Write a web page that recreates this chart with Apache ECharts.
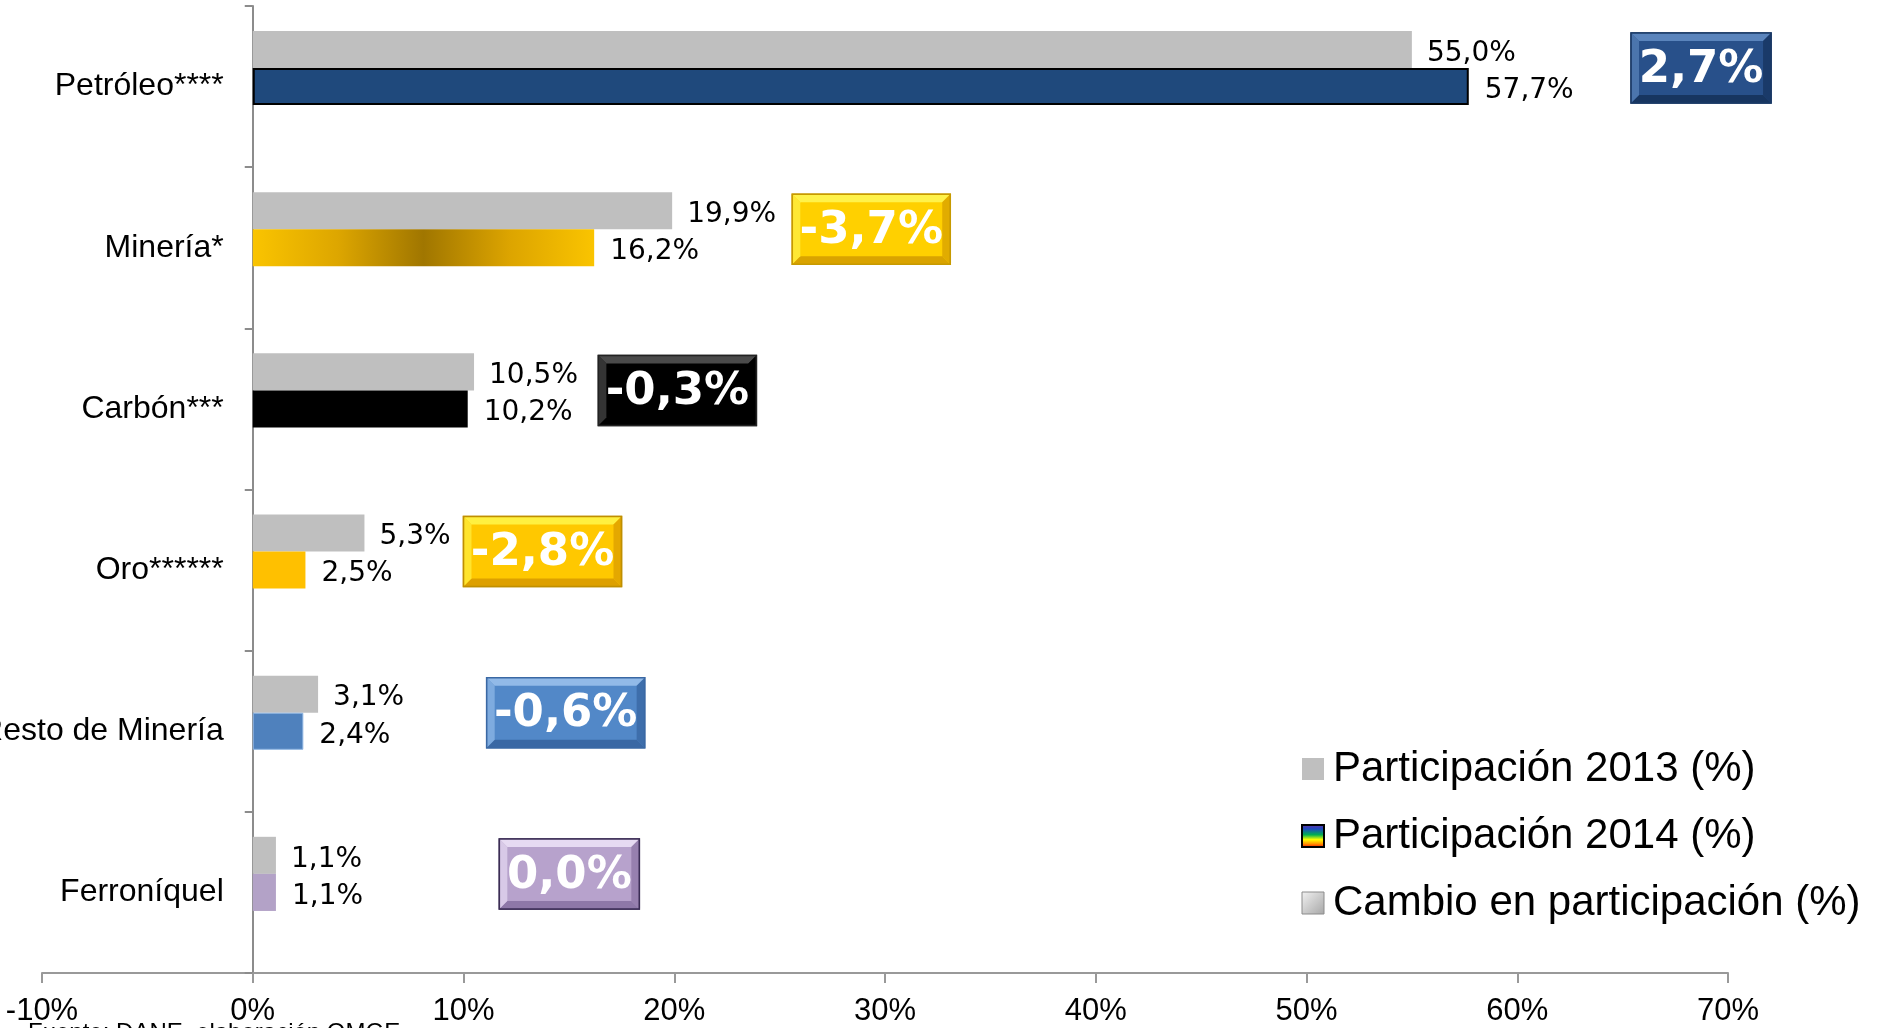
<!DOCTYPE html>
<html>
<head>
<meta charset="utf-8">
<script src="https://cdn.jsdelivr.net/npm/echarts@6/dist/echarts.min.js"></script>
<style>
  html, body { margin: 0; padding: 0; background: #fff; }
  #chart { width: 1882px; height: 1028px; }
</style>
</head>
<body>
<div id="chart"></div>
<script>
// datos
var categorias  = ['Petróleo****', 'Minería*', 'Carbón***', 'Oro******', 'Resto de Minería', 'Ferroníquel']
var part2013    = [55.0, 19.9, 10.5, 5.3, 3.1, 1.1]
var part2014    = [57.7, 16.2, 10.2, 2.5, 2.4, 1.1]
var cambio      = [2.7, -3.7, -0.3, -2.8, -0.6, 0.0]
var ticksX      = [-10, 0, 10, 20, 30, 40, 50, 60, 70]

// donde van las cajas de cambio (borde izquierdo, en % del eje)
var cajaX       = [65.4, 25.6, 16.4, 10.0, 11.1, 11.7]

var fuenteTxt   = '"Liberation Sans", Arial, sans-serif'
var fuenteNum   = '"DejaVu Sans", sans-serif'

var gridIzq = 42
var gridDer = 154
var anchoGrid = 1882 - gridIzq - gridDer
var xMin = ticksX[0]
var xMax = ticksX[ticksX.length - 1]
// el eje de categorias va en el 0 del eje x
var offsetY = -(0 - xMin) / (xMax - xMin) * anchoGrid

var oroGrad = new echarts.graphic.LinearGradient(0, 0, 1, 0, [
  { offset: 0,    color: '#FAC400' },
  { offset: 0.25, color: '#DDA600' },
  { offset: 0.5,  color: '#A07600' },
  { offset: 0.75, color: '#DCA400' },
  { offset: 1,    color: '#FAC400' }
])

var estilo2014 = [
  { color: '#1F497C', borderColor: '#000', borderWidth: 2 },
  { color: oroGrad },
  { color: '#000000' },
  { color: '#FFC000' },
  { color: '#4F81BD', borderColor: '#8DB4E2', borderWidth: 1 },
  { color: '#B3A2C7' }
]

// colores de las cajas: [cara, claro, oscuro, borde]
var estiloCaja = [
  ['#28508A', '#5A84BC', '#173560', '#1A3A66'],
  ['#FFD000', '#FFF24A', '#D9A300', '#C79A00'],
  ['#000000', '#4A4A4A', '#000000', '#222222'],
  ['#FFC800', '#FFF040', '#DDA000', '#C08F00'],
  ['#5288C8', '#92BAE8', '#3A68A4', '#3A68A4'],
  ['#B7A2CC', '#E6DAF2', '#8E78A8', '#3B2D55']
]

function fmt(v) {
  return v.toFixed(1).replace('.', ',') + '%'
}

var chart = echarts.init(document.getElementById('chart'))

function dibujaCaja(params, api) {
  var i = params.dataIndex
  var txt = fmt(cambio[i])
  var p = api.coord([api.value(0), api.value(1)])
  var banda = api.size([0, 1])[1]
  var barH = banda * (1 - 0.31) / 3
  var w = txt.length >= 5 ? 158 : 140
  var h = 70
  var x = p[0]
  var y = p[1] - barH / 2 - h / 2
  var b = 8
  var c = estiloCaja[i]
  return {
    type: 'group',
    children: [
      { type: 'rect', shape: { x: x, y: y, width: w, height: h },
        style: { fill: c[0], stroke: c[3], lineWidth: 1.5 } },
      { type: 'polygon', shape: { points: [[x, y], [x + w, y], [x + w - b, y + b], [x + b, y + b]] },
        style: { fill: c[1] } },
      { type: 'polygon', shape: { points: [[x, y + h], [x + w, y + h], [x + w - b, y + h - b], [x + b, y + h - b]] },
        style: { fill: c[2] } },
      { type: 'polygon', shape: { points: [[x, y], [x + b, y + b], [x + b, y + h - b], [x, y + h]] },
        style: { fill: c[1], opacity: 0.7 } },
      { type: 'polygon', shape: { points: [[x + w, y], [x + w - b, y + b], [x + w - b, y + h - b], [x + w, y + h]] },
        style: { fill: c[2], opacity: 0.8 } },
      { type: 'rect', shape: { x: x, y: y, width: w, height: h },
        style: { fill: 'none', stroke: c[3], lineWidth: 1.5 } },
      { type: 'text',
        style: { x: x + w / 2, y: y + h / 2 + 2, text: txt, fill: '#fff',
          font: 'bold 45px ' + fuenteNum, align: 'center', verticalAlign: 'middle' } }
    ]
  }
}

chart.setOption({
  animation: false,
  grid: {
    left  : gridIzq,
    right : gridDer,
    top   : 6,
    bottom: 55,
    containLabel: false,
    outerBoundsMode: 'none'
  },
  legend: {
    orient   : 'vertical',
    left     : 1296,
    top      : 740,
    itemWidth: 22,
    itemHeight: 22,
    itemGap  : 19,
    textStyle: { fontSize: 42, fontFamily: fuenteTxt, color: '#000', lineHeight: 48, padding: [0, 0, 0, 4] },
    data: [
      { name: 'Participación 2013 (%)', icon: 'rect', itemStyle: { color: '#BFBFBF' } },
      { name: 'Participación 2014 (%)', icon: 'rect', itemStyle: {
        color: new echarts.graphic.LinearGradient(0, 0, 0, 1, [
          { offset: 0,    color: '#7030A0' },
          { offset: 0.2,  color: '#1F49C0' },
          { offset: 0.45, color: '#00B050' },
          { offset: 0.65, color: '#FFFF00' },
          { offset: 0.82, color: '#FF9900' },
          { offset: 1,    color: '#FF0000' }
        ]),
        borderColor: '#000', borderWidth: 2 } },
      { name: 'Cambio en participación (%)', icon: 'rect', itemStyle: {
        color: new echarts.graphic.LinearGradient(0, 0, 1, 1, [
          { offset: 0, color: '#F2F2F2' },
          { offset: 1, color: '#A6A6A6' }
        ]),
        borderColor: '#8C8C8C', borderWidth: 1 } }
    ]
  },
  xAxis: {
    type    : 'value',
    min     : xMin,
    max     : xMax,
    interval: 10,
    splitLine: { show: false },
    axisLine: { show: true, lineStyle: { color: '#999999', width: 2 } },
    axisTick: { show: true, length: 10, lineStyle: { color: '#999999', width: 2 } },
    axisLabel: {
      margin    : 23,
      fontSize  : 31,
      fontFamily: fuenteTxt,
      color     : '#000',
      formatter : '{value}%'
    }
  },
  yAxis: {
    type   : 'category',
    inverse: true,
    data   : categorias,
    offset : offsetY,
    axisLine: { show: true, onZero: false, lineStyle: { color: '#8C8C8C', width: 2 } },
    axisTick: { show: true, length: 8, lineStyle: { color: '#8C8C8C', width: 2 } },
    axisLabel: {
      margin    : 29,
      fontSize  : 32,
      fontFamily: fuenteTxt,
      color     : '#000'
    }
  },
  series: [
    {
      name : 'Participación 2013 (%)',
      type : 'bar',
      data : part2013,
      barGap: 0,
      barCategoryGap: '31%',
      itemStyle: { color: '#BFBFBF' },
      label: {
        show: true, position: 'right', distance: 15, offset: [0, 4],
        fontSize: 28, fontFamily: fuenteNum, color: '#000',
        formatter: function (p) { return fmt(p.value) }
      }
    },
    {
      name : 'Participación 2014 (%)',
      type : 'bar',
      data : part2014.map(function (v, i) { return { value: v, itemStyle: estilo2014[i] } }),
      barGap: 0,
      barCategoryGap: '31%',
      label: {
        show: true, position: 'right', distance: 16, offset: [0, 4],
        fontSize: 28, fontFamily: fuenteNum, color: '#000',
        formatter: function (p) { return fmt(p.value) }
      }
    },
    {
      name : 'Cambio en participación (%)',
      type : 'bar',
      data : cambio,
      barGap: 0,
      barCategoryGap: '31%',
      silent: true,
      itemStyle: { color: 'rgba(0,0,0,0)' }
    },
    {
      name : 'cajas',
      type : 'custom',
      renderItem: dibujaCaja,
      encode: { x: 0, y: 1 },
      data : cajaX.map(function (x, i) { return [x, i] }),
      z: 10
    }
  ],
  graphic: [{
    type: 'text',
    left: 28,
    top : 1021,
    style: { text: 'Fuente: DANE, elaboración OMGE', font: '24px ' + fuenteTxt, fill: '#000' }
  }]
})
</script>
</body>
</html>
